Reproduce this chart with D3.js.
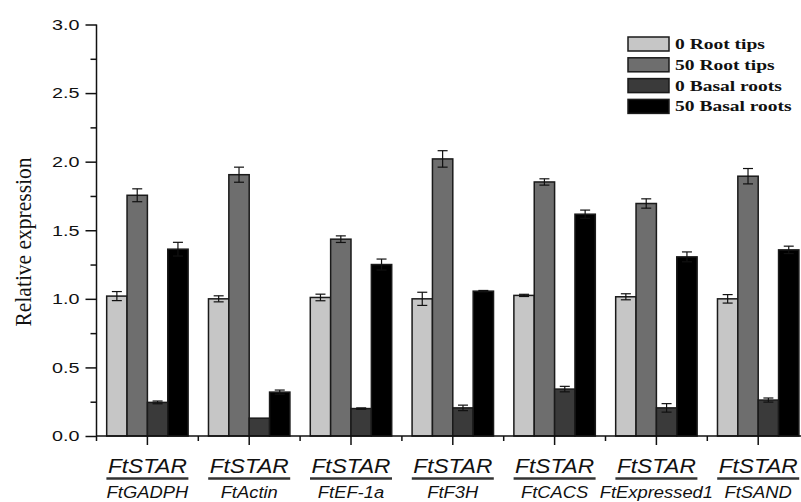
<!DOCTYPE html>
<html>
<head>
<meta charset="utf-8">
<script src="https://cdn.jsdelivr.net/npm/d3@7"></script>
<style>
  html, body { margin: 0; padding: 0; background: #fff; }
  svg { display: block; }
</style>
</head>
<body>
<svg id="chart" width="801" height="502"></svg>
<script>
// Genes paired with FtSTAR
const categories = ["FtGADPH", "FtActin", "FtEF-1a", "FtF3H", "FtCACS", "FtExpressed1", "FtSAND"];
const seriesNames = ["0 Root tips", "50 Root tips", "0 Basal roots", "50 Basal roots"];

// Mean relative expression per gene
const rootTips0 = [1.02, 1.00, 1.01, 1.00, 1.025, 1.015, 1.00];
const rootTips50 = [1.755, 1.905, 1.435, 2.02, 1.852, 1.695, 1.894];
const basal0 = [0.245, 0.13, 0.20, 0.205, 0.342, 0.205, 0.262];
const basal50 = [1.362, 0.32, 1.25, 1.056, 1.617, 1.306, 1.357];

// Standard errors
const rootTips0Err = [0.033, 0.022, 0.024, 0.048, 0.008, 0.022, 0.031];
const rootTips50Err = [0.047, 0.055, 0.024, 0.06, 0.023, 0.034, 0.056];
const basal0Err = [0.01, 0, 0.005, 0.02, 0.02, 0.031, 0.015];
const basal50Err = [0.05, 0.015, 0.04, 0.005, 0.03, 0.036, 0.027];

const yTicks = [0, 0.5, 1.0, 1.5, 2.0, 2.5, 3.0];
const yMinorTicks = [0.25, 0.75, 1.25, 1.75, 2.25, 2.75];
const geneLabelTop = "FtSTAR";

const seriesValues = [rootTips0, rootTips50, basal0, basal50];
const seriesErrors = [rootTips0Err, rootTips50Err, basal0Err, basal50Err];
const fills = ["#c6c6c6", "#6e6e6e", "#3a3a3a", "#000000"];

const svg = d3.select("#chart");

const x0 = 96.5, groupW = 101.8;
const x = d3.scaleBand().domain(categories).range([x0, x0 + groupW * categories.length]).padding(0);
const xs = d3.scaleBand().domain(seriesNames).range([groupW * 0.1, groupW * 0.9]).padding(0);
const y = d3.scaleLinear().domain([0, 3]).range([436, 24.5]);

const rows = [];
categories.forEach((c, i) => {
  seriesNames.forEach((s, j) => {
    rows.push({ cat: c, series: s, j, value: seriesValues[j][i], err: seriesErrors[j][i] });
  });
});

// Bars
svg.append("g").selectAll("rect").data(rows).join("rect")
  .attr("x", d => x(d.cat) + xs(d.series))
  .attr("y", d => y(d.value))
  .attr("width", xs.bandwidth())
  .attr("height", d => y(0) - y(d.value))
  .attr("fill", d => fills[d.j])
  .attr("stroke", "#1a1a1a")
  .attr("stroke-width", 1.5);

// Error bars
const eb = svg.append("g").attr("stroke", "#111").attr("stroke-width", 1.2);
rows.filter(d => d.err > 0).forEach(d => {
  const cx = x(d.cat) + xs(d.series) + xs.bandwidth() / 2;
  const top = y(d.value + d.err), bot = y(d.value - d.err);
  eb.append("line").attr("x1", cx).attr("x2", cx).attr("y1", top).attr("y2", bot);
  eb.append("line").attr("x1", cx - 5).attr("x2", cx + 5).attr("y1", top).attr("y2", top);
  eb.append("line").attr("x1", cx - 5).attr("x2", cx + 5).attr("y1", bot).attr("y2", bot);
});

// Y axis
const yAxis = svg.append("g").attr("transform", `translate(${x0},0)`)
  .call(d3.axisLeft(y).tickValues(yTicks).tickSize(11).tickPadding(6).tickFormat(d3.format(".1f")));
svg.append("g").attr("transform", `translate(${x0},0)`)
  .call(d3.axisLeft(y).tickValues(yMinorTicks).tickSize(6).tickFormat(""))
  .call(g => g.select(".domain").remove());
yAxis.select(".domain").attr("d", `M0,${y(3)}V${y(0) + 5}`);
svg.selectAll(".tick line").attr("stroke", "#111").attr("stroke-width", 1.5);
yAxis.select(".domain").attr("stroke", "#111").attr("stroke-width", 1.5);
yAxis.selectAll(".tick text")
  .attr("font-family", "Liberation Sans, Arial, sans-serif")
  .attr("font-size", 15)
  .attr("fill", "#111")
  .attr("textLength", 27.5)
  .attr("lengthAdjust", "spacingAndGlyphs");

// X axis
const xAxis = svg.append("g").attr("transform", `translate(0,${y(0)})`);
xAxis.append("line").attr("x1", x0).attr("x2", 801).attr("y1", 0).attr("y2", 0)
  .attr("stroke", "#111").attr("stroke-width", 1.5);
xAxis.selectAll("line.major").data(categories).join("line").attr("class", "major")
  .attr("x1", d => x(d) + x.bandwidth() / 2).attr("x2", d => x(d) + x.bandwidth() / 2)
  .attr("y1", 0).attr("y2", 9).attr("stroke", "#111").attr("stroke-width", 1.5);
xAxis.selectAll("line.minor").data(categories.slice(1)).join("line").attr("class", "minor")
  .attr("x1", d => x(d)).attr("x2", d => x(d))
  .attr("y1", 0).attr("y2", 5).attr("stroke", "#111").attr("stroke-width", 1.5);

// Category labels: FtSTAR over the reference gene
const lab = svg.append("g").selectAll("g").data(categories).join("g")
  .attr("transform", d => `translate(${x(d) + x.bandwidth() / 2},0)`);
lab.append("text")
  .attr("y", 472.5).attr("text-anchor", "middle")
  .attr("font-family", "Liberation Sans, Arial, sans-serif")
  .attr("font-style", "italic").attr("font-size", 20).attr("fill", "#111")
  .attr("textLength", 79).attr("lengthAdjust", "spacingAndGlyphs")
  .text(geneLabelTop);
lab.append("line").attr("x1", -41).attr("x2", 41).attr("y1", 478.5).attr("y2", 478.5)
  .attr("stroke", "#333").attr("stroke-width", 2.5);
lab.append("text")
  .attr("y", 498.5).attr("text-anchor", "middle")
  .attr("font-family", "Liberation Sans, Arial, sans-serif")
  .attr("font-style", "italic").attr("font-size", 17).attr("fill", "#111")
  .attr("transform", "scale(1.08,1)")
  .text(d => d);

// Y axis title
svg.append("text")
  .attr("transform", "translate(31,242) rotate(-90)")
  .attr("text-anchor", "middle")
  .attr("font-family", "Liberation Serif, Times New Roman, serif")
  .attr("font-size", 24).attr("fill", "#111")
  .attr("textLength", 169).attr("lengthAdjust", "spacingAndGlyphs")
  .text("Relative expression");

// Legend
const leg = svg.append("g").selectAll("g").data(seriesNames).join("g")
  .attr("transform", (d, i) => `translate(628,${37 + i * 20.8})`);
leg.append("rect").attr("width", 41).attr("height", 14)
  .attr("fill", (d, i) => fills[i]).attr("stroke", "#1a1a1a").attr("stroke-width", 1.5);
leg.append("text").attr("x", 47).attr("y", 12)
  .attr("font-family", "Liberation Serif, Times New Roman, serif")
  .attr("font-weight", "bold").attr("font-size", 15).attr("fill", "#111")
  .text(d => d)
  .each(function () {
    const w = this.getComputedTextLength();
    d3.select(this).attr("textLength", w * 1.3).attr("lengthAdjust", "spacingAndGlyphs");
  });
</script>
</body>
</html>
